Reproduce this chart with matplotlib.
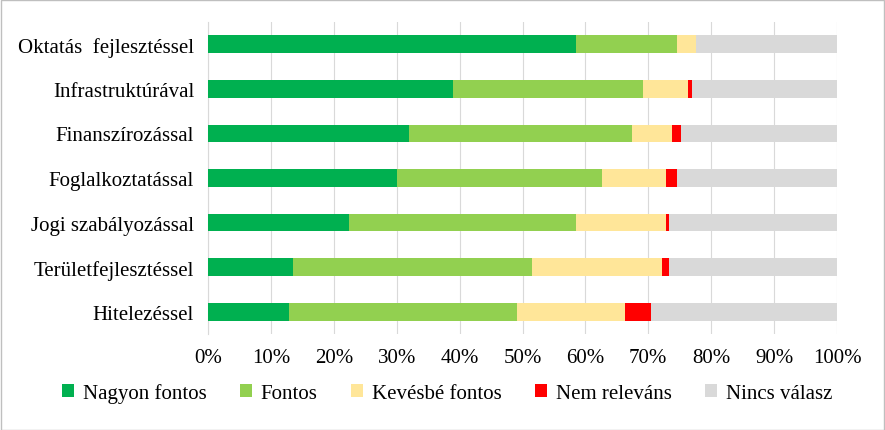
import matplotlib.pyplot as plt
import numpy as np

categories = ["Oktatás  fejlesztéssel", "Infrastruktúrával", "Finanszírozással",
              "Foglalkoztatással", "Jogi szabályozással", "Területfejlesztéssel",
              "Hitelezéssel"]
series_names = ["Nagyon fontos", "Fontos", "Kevésbé fontos", "Nem releváns", "Nincs válasz"]
nagyon = [58.5, 39.0, 32.0, 30.0, 22.4, 13.5, 12.9]
fontos = [16.1, 30.2, 35.4, 32.7, 36.1, 38.0, 36.2]
kevesbe = [3.0, 7.1, 6.4, 10.1, 14.3, 20.7, 17.2]
nem = [0.0, 0.7, 1.4, 1.8, 0.5, 1.1, 4.1]
colors = ["#00b050", "#92d050", "#ffe699", "#ff0000", "#d9d9d9"]

series = [nagyon, fontos, kevesbe, nem]
nincs = [100 - sum(v) for v in zip(*series)]
series.append(nincs)

plt.rcParams["font.family"] = "Liberation Serif"
fig = plt.figure(figsize=(8.85, 4.31), dpi=100)
ax = fig.add_axes([208 / 885, 1 - 335 / 431, 629 / 885, 312 / 431])
y = np.arange(len(categories))
left = np.zeros(len(categories))
for vals, name, c in zip(series, series_names, colors):
    ax.barh(y, vals, left=left, height=0.4, color=c, label=name, zorder=3)
    left += np.array(vals)

ax.set_xlim(0, 100)
ax.set_ylim(len(categories) - 0.5, -0.5)
ax.set_yticks(y)
ax.set_yticklabels(categories, fontsize=15)
ax.set_xticks(range(0, 101, 10))
ax.set_xticklabels([f"{v}%" for v in range(0, 101, 10)], fontsize=15)
ax.grid(axis="x", color="#d9d9d9", zorder=0)
for s in ["top", "right", "bottom"]:
    ax.spines[s].set_visible(False)
ax.spines["left"].set_color("#d9d9d9")
ax.tick_params(length=0, pad=10)

fig.legend(loc="lower center", ncol=5, frameon=False, fontsize=15,
           bbox_to_anchor=(0.505, 0.02), handlelength=0.6, handleheight=0.6,
           columnspacing=1.6, handletextpad=0.4)
fig.patches.append(plt.Rectangle((0.001, 0.001), 0.998, 0.997, transform=fig.transFigure,
                                 fill=False, edgecolor="#bfbfbf", lw=1))
fig.savefig("out.png", dpi=100)
